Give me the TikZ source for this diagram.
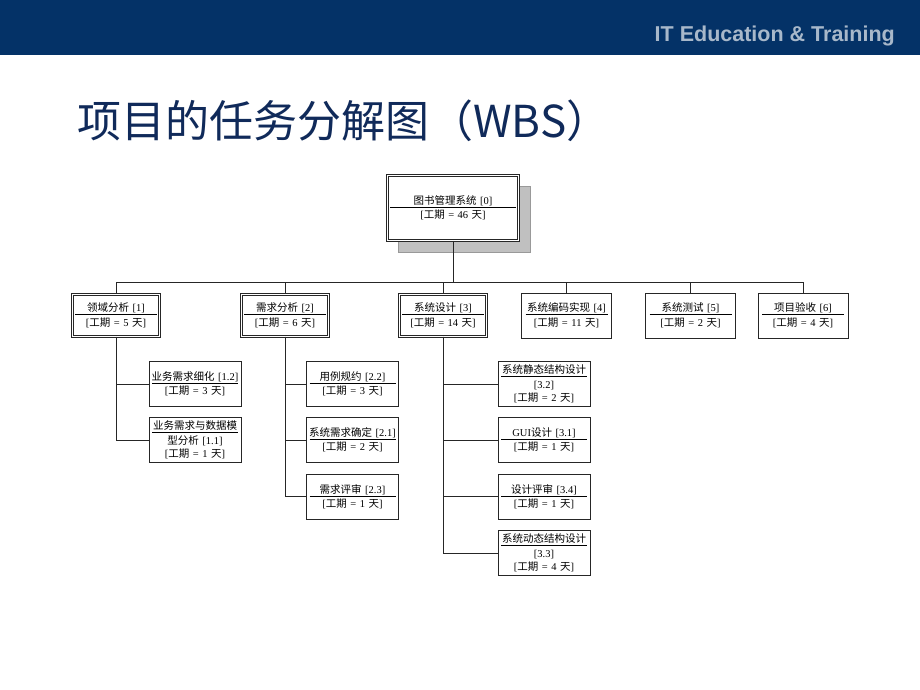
\documentclass[tikz,border=0pt]{standalone}
\usepackage{fontspec}
\setmainfont{Liberation Serif}
\newfontfamily\cjk{Noto Sans CJK SC}
\newfontfamily\headfont{Liberation Sans}
\usetikzlibrary{backgrounds}

\definecolor{navy}{RGB}{4,50,103}
\definecolor{titleblue}{RGB}{16,42,90}
\definecolor{headgray}{RGB}{168,184,202}
\definecolor{shadowgray}{RGB}{192,192,192}

\newcommand{\zh}[1]{{\cjk #1}}
\newcommand{\gq}[1]{[\zh{工期} = #1 \zh{天}]}
\newcommand{\wbstext}[2]{\makebox[\linewidth]{#1}\\[-10pt]\rule{\linewidth}{0.5pt}\\[-1.5pt]#2}

\begin{document}
\begin{tikzpicture}[x=1pt, y=-1pt,
    every node/.style={font=\fontsize{10.5}{13}\selectfont, align=center, inner ysep=2pt},
    task/.style={rectangle, draw=black!85, line width=0.6pt, fill=white, text width=82pt, inner xsep=4pt, minimum height=45pt},
    phase/.style={task, double, line width=0.7pt, double distance=1.4pt, inner xsep=2.5pt, minimum height=42pt},
    subtask/.style={task, text width=86pt, inner xsep=3pt},
    rootbox/.style={task, double, line width=0.9pt, double distance=1.5pt, text width=126pt, inner xsep=2.5pt, minimum height=65pt},
    link/.style={draw=black!85, line width=0.6pt}
]
\useasboundingbox (0,0) rectangle (920,690);
% header
\fill[navy] (0,0) rectangle (920,55);
\node[anchor=base east, inner sep=0, text=headgray, font=\headfont\bfseries\fontsize{21.5}{24}\selectfont] (brand) at (895,41.5) {IT Education \& Training};
\node[anchor=base west, inner sep=0, text=titleblue, font=\cjk\fontsize{44}{50}\selectfont] (title) at (77,137) {项目的任务分解图（WBS）};

% root and phases
\node[rootbox] (root) at (453,208) {\wbstext{\zh{图书管理系统} [0]}{\gq{46}}};
\node[phase] (b1) at (116,315.5) {\wbstext{\zh{领域分析} [1]}{\gq{5}}};
\node[phase] (b2) at (285,315.5) {\wbstext{\zh{需求分析} [2]}{\gq{6}}};
\node[phase] (b3) at (443,315.5) {\wbstext{\zh{系统设计} [3]}{\gq{14}}};
\node[task] (b4) at (566.5,315.5) {\wbstext{\zh{系统编码实现} [4]}{\gq{11}}};
\node[task] (b5) at (690.5,315.5) {\wbstext{\zh{系统测试} [5]}{\gq{2}}};
\node[task] (b6) at (803,315.5) {\wbstext{\zh{项目验收} [6]}{\gq{4}}};

% work packages
\node[subtask] (b12) at (195,384) {\wbstext{\zh{业务需求细化} [1.2]}{\gq{3}}};
\node[subtask] (b11) at (195,440) {\wbstext{\zh{业务需求与数据模}}{\zh{型分析} [1.1]\\\gq{1}}};
\node[subtask] (b22) at (352.5,384) {\wbstext{\zh{用例规约} [2.2]}{\gq{3}}};
\node[subtask] (b21) at (352.5,440) {\wbstext{\zh{系统需求确定} [2.1]}{\gq{2}}};
\node[subtask] (b23) at (352.5,496.5) {\wbstext{\zh{需求评审} [2.3]}{\gq{1}}};
\node[subtask] (b32) at (544,384) {\wbstext{\zh{系统静态结构设计}}{[3.2]\\\gq{2}}};
\node[subtask] (b31) at (544,440) {\wbstext{GUI\zh{设计} [3.1]}{\gq{1}}};
\node[subtask] (b34) at (544,496.5) {\wbstext{\zh{设计评审} [3.4]}{\gq{1}}};
\node[subtask] (b33) at (544,553) {\wbstext{\zh{系统动态结构设计}}{[3.3]\\\gq{4}}};

% connectors
\coordinate (bus) at (453,282);
\draw[link] (root.south) -- (bus);
\draw[link] (bus -| b1.north) -- (bus -| b6.north);
\foreach \i in {1,...,6} \draw[link] (bus -| b\i.north) -- (b\i.north);
\foreach \c in {11,12} \draw[link] (b1.south) |- (b\c.west);
\foreach \c in {21,22,23} \draw[link] (b2.south) |- (b\c.west);
\foreach \c in {31,32,33,34} \draw[link] (b3.south) |- (b\c.west);

\begin{scope}[on background layer]
  \fill[white] (0,0) rectangle (920,690);
  \filldraw[fill=shadowgray, draw=gray!80] ([shift={(11,11)}]root.north west) rectangle ([shift={(11,11)}]root.south east);
\end{scope}
\end{tikzpicture}
\end{document}
